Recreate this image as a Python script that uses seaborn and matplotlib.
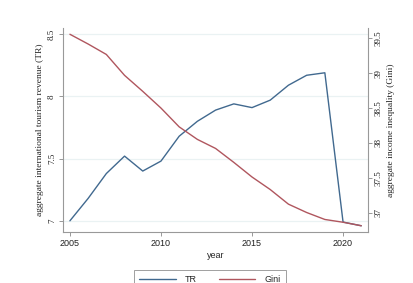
import matplotlib
matplotlib.use("Agg")
import matplotlib.pyplot as plt
import seaborn as sns
import pandas as pd

years = list(range(2005, 2022))
tr = [7.00, 7.18, 7.38, 7.52, 7.40, 7.48, 7.68, 7.80, 7.89, 7.94, 7.91, 7.97, 8.09, 8.17, 8.19, 6.99, 6.96]
gini = [39.56, 39.42, 39.27, 38.97, 38.74, 38.50, 38.23, 38.05, 37.92, 37.72, 37.51, 37.33, 37.12, 37.00, 36.90, 36.86, 36.81]
left_ticks = [7, 7.5, 8, 8.5]
right_ticks = [37, 37.5, 38, 38.5, 39, 39.5]
x_ticks = [2005, 2010, 2015, 2020]

df = pd.DataFrame({"year": years, "TR": tr, "Gini": gini})

sns.set_theme(style="white")
plt.rcParams["font.family"] = ["Liberation Sans", "DejaVu Sans"]

c_tr = "#41698f"
c_gini = "#b0565e"
serif = ["Liberation Serif", "DejaVu Serif"]

fig = plt.figure(figsize=(4.14, 2.83), dpi=100)
ax = fig.add_axes([63 / 414, 1 - 232 / 283, (368 - 63) / 414, (232 - 28) / 283])
ax2 = ax.twinx()

sns.lineplot(data=df, x="year", y="TR", ax=ax, color=c_tr, lw=1.0, label="TR", legend=False)
sns.lineplot(data=df, x="year", y="Gini", ax=ax2, color=c_gini, lw=1.0, label="Gini", legend=False)

ax.set_xlim(2004.62, 2021.37)
ax.set_ylim(6.91, 8.55)
ax2.set_ylim(36.72, 39.65)

for t in left_ticks:
    ax.axhline(t, color="#eaf2f3", lw=0.9, zorder=0)

ax.set_xticks(x_ticks)
ax.set_xticklabels([str(v) for v in x_ticks], fontsize=6.5)
ax.set_yticks(left_ticks)
ax.set_yticklabels([str(v) for v in left_ticks], fontsize=6.5, rotation=90, va="center", family=serif)
ax2.set_yticks(right_ticks)
ax2.set_yticklabels([str(v) for v in right_ticks], fontsize=6.5, rotation=90, va="center", family=serif)

ax.set_xlabel("year", fontsize=6.5, labelpad=2)
ax.set_ylabel("aggregate international tourism revenue (TR)", fontsize=6.8, family=serif, labelpad=3)
ax2.set_ylabel("aggregate income inequality (Gini)", fontsize=6.8, family=serif, labelpad=3)

for a in (ax, ax2):
    a.spines["top"].set_visible(False)
    for s in ("left", "right", "bottom"):
        a.spines[s].set_color("#999999")
        a.spines[s].set_linewidth(0.8)
    a.tick_params(axis="both", length=3, width=0.6, color="#888888", pad=2, labelcolor="#222222")
ax.spines["right"].set_visible(False)
ax2.spines["left"].set_visible(False)
ax2.spines["bottom"].set_visible(False)
ax.tick_params(axis="x", bottom=True)
ax.tick_params(axis="y", left=True)
ax2.tick_params(axis="y", right=True)

h1, l1 = ax.get_legend_handles_labels()
h2, l2 = ax2.get_legend_handles_labels()
leg = fig.legend(h1 + h2, l1 + l2, loc="upper center", bbox_to_anchor=(210 / 414, 1 - 265 / 283),
                 ncol=2, fontsize=6.5, frameon=True, fancybox=False, edgecolor="#888888",
                 handlelength=4.0, columnspacing=2.5, handletextpad=1.0, borderpad=0.6)
leg.get_frame().set_linewidth(0.7)

fig.savefig("out.png", dpi=100, facecolor="white")
